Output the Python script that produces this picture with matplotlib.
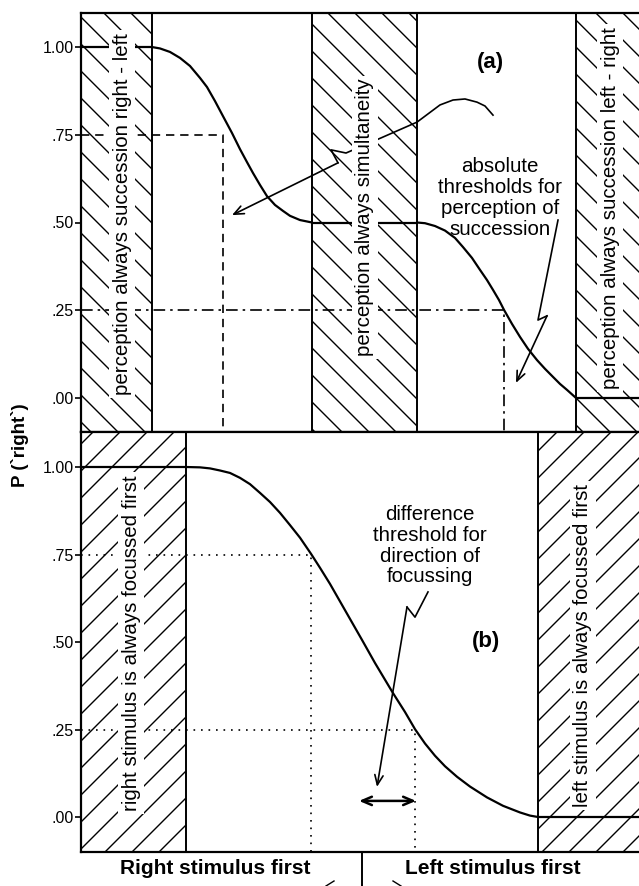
import matplotlib
matplotlib.use("Agg")
import matplotlib.pyplot as plt
import numpy as np
from matplotlib.patches import Rectangle
from matplotlib.collections import LineCollection
from matplotlib.lines import Line2D

plt.rcParams['font.family'] = ['Liberation Sans', 'DejaVu Sans']

# stimulus onset asynchrony, arbitrary units (0 = simultaneous onset)
x_lim = (-281, 288)
prob_ticks = [0.0, 0.25, 0.5, 0.75, 1.0]
prob_labels = ['.00', '.25', '.50', '.75', '1.00']

# (a) successiveness judgements: hatched zones and the two transition curves
zones_a = [(-281, -210), (-50, 55), (214, 288)]
curve_a1_x = [-210, -202, -192, -182, -172, -162, -155, -147, -139, -130, -122,
              -115, -109, -102, -95, -87, -79, -72, -62, -50]
curve_a1_y = [1.0, 0.996, 0.986, 0.969, 0.946, 0.912, 0.886, 0.846, 0.803, 0.755, 0.709,
              0.672, 0.641, 0.607, 0.575, 0.550, 0.533, 0.519, 0.507, 0.5]
curve_a2_x = [55, 63, 73, 83, 93, 101, 110, 118, 125, 131, 137, 142, 150, 158, 166,
              175, 183, 191, 198, 205, 214]
curve_a2_y = [0.5, 0.498, 0.490, 0.477, 0.456, 0.430, 0.399, 0.365, 0.336, 0.308, 0.279,
              0.251, 0.211, 0.174, 0.140, 0.108, 0.083, 0.060, 0.040, 0.023, 0.0]
plateau_a = [((-281, -210), 1.0), ((-50, 55), 0.5), ((214, 288), 0.0)]
thr75_a = -139   # .75 point, right-left
thr25_a = 142    # .25 point, left-right

# (b) focussing judgements: single psychometric function
zones_b = [(-281, -176), (176, 288)]
curve_b_x = [-176, -162, -152, -142, -132, -122, -112, -102, -92, -82, -72, -62, -51,
             -42, -32, -22, -12, 0, 13, 31, 43, 53, 63, 73, 83, 95, 108, 125, 141, 158, 168, 176]
curve_b_y = [1.0, 0.999, 0.996, 0.990, 0.983, 0.969, 0.951, 0.926, 0.900, 0.869, 0.834,
             0.798, 0.752, 0.712, 0.666, 0.616, 0.566, 0.506, 0.440, 0.354, 0.300, 0.251,
             0.210, 0.175, 0.145, 0.115, 0.087, 0.056, 0.032, 0.013, 0.004, 0.0]
plateau_b = [((-281, -176), 1.0), ((176, 288), 0.0)]
thr75_b = -51
thr25_b = 53

# pointer lines (last point is the arrow tip)
ptr_a1_x = [131, 123, 115, 103, 91, 78, 55, 19, -16, -31, -24, -130]
ptr_a1_y = [0.806, 0.832, 0.843, 0.852, 0.849, 0.835, 0.786, 0.741, 0.698, 0.707, 0.670, 0.521]
ptr_a2_x = [196, 176, 185, 154]
ptr_a2_y = [0.507, 0.222, 0.234, 0.043]
ptr_b_x = [66, 53, 45, 15]
ptr_b_y = [0.643, 0.571, 0.600, 0.086]
dt_span = (-3, 54)
dt_level = 0.046

W, H = 639, 886
fig = plt.figure(figsize=(W / 100, H / 100), dpi=100)
left, right = 81 / W, 650 / W
ax_a = fig.add_axes([left, 1 - 432 / H, right - left, (432 - 13) / H])
ax_b = fig.add_axes([left, 1 - 852 / H, right - left, (852 - 432) / H])
ax_a.set_ylim(-0.097, 1.097)
ax_b.set_ylim(-0.1, 1.1)

tick_font = dict(family=['Liberation Sans Narrow', 'Liberation Sans'], size=11.5)
for ax in (ax_a, ax_b):
    ax.set_xlim(*x_lim)
    ax.set_xticks([])
    ax.set_yticks(prob_ticks)
    ax.set_yticklabels(prob_labels, fontdict=tick_font)
    ax.tick_params(axis='y', direction='out', length=4, width=1.2, pad=1)
    for s in ax.spines.values():
        s.set_linewidth(1.6)
    ax.spines['right'].set_visible(False)


def hatch(ax, x0, x1, sign, px_per_unit, step_px=27):
    y0, y1 = ax.get_ylim()
    rect = Rectangle((x0, y0), x1 - x0, y1 - y0, fill=False, edgecolor='none')
    ax.add_patch(rect)
    rise = sign * (x1 - x0) / px_per_unit
    step = step_px / px_per_unit
    starts = np.arange(y0 - abs(rise) - step, y1 + abs(rise) + step, step)
    segs = [[(x0, c), (x1, c + rise)] for c in starts]
    lc = LineCollection(segs, colors='black', linewidths=1.0, zorder=1)
    ax.add_collection(lc)
    lc.set_clip_path(rect)
    for xb in (x0, x1):
        ax.axvline(xb, color='black', lw=1.4, zorder=3)


for x0, x1 in zones_a:
    hatch(ax_a, x0, x1, -1, 351)
for x0, x1 in zones_b:
    hatch(ax_b, x0, x1, 1, 350)

line_kw = dict(color='black', lw=1.6, zorder=3, solid_capstyle='butt', solid_joinstyle='round')
ax_a.plot(curve_a1_x, curve_a1_y, **line_kw)
ax_a.plot(curve_a2_x, curve_a2_y, **line_kw)
for (xa, xb), lvl in plateau_a:
    ax_a.plot([xa, xb], [lvl, lvl], **line_kw)
ax_b.plot(curve_b_x, curve_b_y, **line_kw)
for (xa, xb), lvl in plateau_b:
    ax_b.plot([xa, xb], [lvl, lvl], **line_kw)

# threshold guides
ax_a.plot([x_lim[0], thr75_a, thr75_a], [0.75, 0.75, -0.1], color='black', lw=1.2,
          ls=(0, (5, 3.5)), zorder=2)
ax_a.plot([x_lim[0], thr25_a, thr25_a], [0.25, 0.25, -0.1], color='black', lw=1.2,
          ls=(0, (7, 3, 1.5, 3)), zorder=2)
ax_b.plot([x_lim[0], thr75_b, thr75_b], [0.75, 0.75, -0.1], color='black', lw=1.2,
          ls=(0, (1, 3.5)), zorder=2)
ax_b.plot([x_lim[0], thr25_b, thr25_b], [0.25, 0.25, -0.1], color='black', lw=1.2,
          ls=(0, (1, 3.5)), zorder=2)

# pointers
arrow_kw = dict(arrowstyle='->,head_length=0.7,head_width=0.3', lw=1.2, color='black',
                shrinkA=0, shrinkB=0)
for ax, px, py in ((ax_a, ptr_a1_x, ptr_a1_y), (ax_a, ptr_a2_x, ptr_a2_y), (ax_b, ptr_b_x, ptr_b_y)):
    ax.plot(px[:-1], py[:-1], color='black', lw=1.2, zorder=4)
    ax.annotate('', xy=(px[-1], py[-1]), xytext=(px[-2], py[-2]), arrowprops=arrow_kw, zorder=4)
ax_b.annotate('', xy=(dt_span[0], dt_level), xytext=(dt_span[1], dt_level),
              arrowprops=dict(arrowstyle='<->,head_length=0.7,head_width=0.3', lw=1.8,
                              color='black', shrinkA=0, shrinkB=0))

# labels
txt = dict(fontsize=14.8, ha='center', va='center', zorder=5)
box = dict(boxstyle='square,pad=0.15', fc='white', ec='none')
ax_a.text(-240, 0.523, 'perception always succession right - left', rotation=90, bbox=box, **txt)
ax_a.text(3, 0.514, 'perception always simultaneity', rotation=90, bbox=box, **txt)
ax_a.text(248, 0.541, 'perception always succession left - right', rotation=90, bbox=box, **txt)
ax_a.text(138, 0.57, 'absolute\nthresholds for\nperception of\nsuccession', linespacing=1.12, **txt)
ax_a.text(128, 0.955, '(a)', fontsize=16, fontweight='bold', ha='center', va='center')

ax_b.text(-231, 0.497, 'right stimulus is always focussed first', rotation=90, bbox=box, **txt)
ax_b.text(221, 0.489, 'left stimulus is always focussed first', rotation=90, bbox=box, **txt)
ax_b.text(68, 0.775, 'difference\nthreshold for\ndirection of\nfocussing', linespacing=1.12, **txt)
ax_b.text(124, 0.5, '(b)', fontsize=16, fontweight='bold', ha='center', va='center')

fig.text(20 / W, 1 - 445 / H, 'P (`right`)', rotation=90, fontsize=13.5, fontweight='bold',
         ha='center', va='center')
fig.text(215 / W, 1 - 869 / H, 'Right stimulus first', fontsize=15, fontweight='bold',
         ha='center', va='center')
fig.text(493 / W, 1 - 869 / H, 'Left stimulus first', fontsize=15, fontweight='bold',
         ha='center', va='center')
fig.add_artist(Line2D([362 / W, 362 / W], [0, 1 - 852 / H], color='black', lw=1.4))
# tails of the direction arrows below the axis
fig.add_artist(Line2D([326 / W, 334 / W], [1 - 886 / H, 1 - 881 / H], color='black', lw=1.0))
fig.add_artist(Line2D([393 / W, 401 / W], [1 - 881 / H, 1 - 886 / H], color='black', lw=1.0))

fig.savefig('out.png', dpi=100)
